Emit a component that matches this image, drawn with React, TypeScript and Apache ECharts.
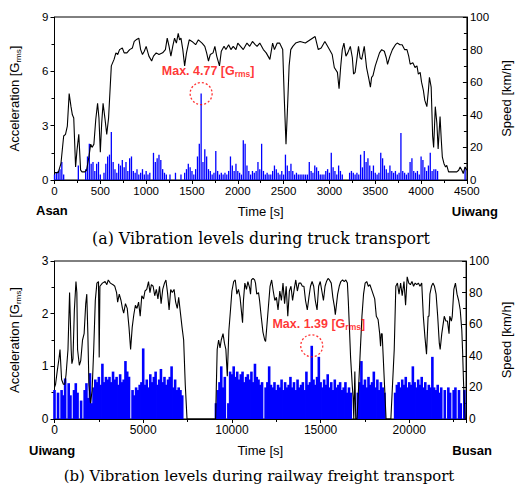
import React, { useEffect, useRef } from "react";
import * as echarts from "echarts";

// ---------- (a) truck transport ----------
const truckAccStep = 20; // s between acceleration samples
const truckAcc = [
  0.3, 0.4, 0.5, 0.6, 1.0, 0.3, 0, 0, 0, 0, 0, 0, 0, 0.8, 0, 0, 0, 0.6, 1.3, 2.0,
  0.9, 1.0, 0.5, 0.9, 1.0, 0.3, 0, 0.4, 0.9, 1.3, 1.4, 2.65, 1.0, 0.6, 0.4, 0.9, 0.8, 1.1, 0.7, 1.0,
  0.5, 1.2, 1.3, 0.5, 0.4, 0.6, 0.3, 0.4, 0.6, 0.3, 0.5, 0.3, 0.4, 0, 1.5, 1.0, 1.2, 1.4, 1.1, 0.6,
  0.4, 0.3, 0, 0.3, 0, 0, 0.4, 0, 0, 0.3, 0, 0.4, 0.6, 0.9, 0.7, 0.5, 0.3, 0.6, 1.3, 2.0,
  4.77, 1.0, 1.7, 1.3, 0.6, 0.5, 0.3, 0.4, 1.6, 0.5, 0.3, 0.4, 0.3, 0.4, 0.3, 0.5, 1.3, 0.8, 0.5, 0.9,
  0.5, 0.4, 0.3, 2.2, 2.0, 0.8, 0.5, 0.3, 0.5, 0.4, 0.5, 1.0, 0.6, 2.0, 0.5, 0.3, 0.4, 0.3, 0.3, 0.5,
  0.8, 0.6, 0.4, 0.3, 0.5, 0.3, 1.4, 0.8, 0.5, 0.9, 0.5, 0.3, 0.4, 0.3, 0.3, 0.3, 0.3, 0.3, 0.3, 1.0,
  0.5, 0.4, 0.8, 0.7, 0.5, 0.3, 0.3, 0.3, 0.5, 0.6, 0.4, 1.5, 0.7, 0.5, 0.3, 0.8, 0.5, 0.3, 0, 0,
  0, 0.4, 0.5, 0.4, 0.3, 0.4, 0.3, 1.4, 0.7, 1.6, 1.0, 1.2, 0.8, 0.5, 0.8, 0.4, 0.3, 0.4, 1.5, 1.2,
  0.8, 0.6, 0.4, 0.8, 0.5, 0.4, 0.5, 0.3, 0.4, 2.6, 0.5, 0.4, 0.3, 0.4, 1.0, 1.2, 0.5, 0.4, 0.5, 0.3,
  1.3, 1.1, 0.7, 0.5, 0.8, 1.5, 0.5, 0.6, 0.6, 0.5, 0, 0, 0, 0, 0, 0, 0, 0, 0, 0,
  0, 0, 0, 0, 0.7,
];
const truckSpeedTime = [
  0, 40, 70, 100, 120, 140, 160, 180, 195, 210, 230, 245, 265, 285, 300, 330, 350, 375, 395, 410,
  430, 450, 470, 485, 500, 515, 530, 550, 570, 590, 620, 650, 670, 690, 710, 740, 760, 790, 820, 850,
  870, 890, 920, 940, 960, 980, 1000, 1030, 1060, 1080, 1110, 1140, 1180, 1210, 1230, 1250, 1270, 1290, 1310, 1330,
  1350, 1365, 1380, 1400, 1420, 1440, 1470, 1500, 1540, 1570, 1610, 1640, 1660, 1680, 1700, 1730, 1750, 1770, 1800, 1820,
  1850, 1870, 1900, 1925, 1950, 1980, 2000, 2030, 2060, 2100, 2130, 2160, 2190, 2210, 2240, 2279, 2310, 2350, 2380, 2400,
  2430, 2456, 2490, 2508, 2526, 2543, 2560, 2578, 2600, 2631, 2680, 2737, 2790, 2844, 2878, 2910, 2950, 2980, 3000, 3030,
  3053, 3087, 3105, 3122, 3140, 3158, 3180, 3200, 3228, 3250, 3263, 3280, 3317, 3335, 3352, 3380, 3405, 3430, 3447, 3460,
  3475, 3500, 3546, 3570, 3599, 3620, 3634, 3660, 3687, 3720, 3740, 3770, 3793, 3820, 3846, 3865, 3881, 3910, 3934, 3955,
  3970, 3990, 4005, 4025, 4040, 4063, 4080, 4091, 4110, 4126, 4137, 4155, 4172, 4186, 4207, 4220, 4232, 4250, 4267, 4280,
  4300, 4350, 4390, 4410, 4426, 4445, 4460, 4480, 4500,
];
const truckSpeed = [
  4.5, 4.5, 10, 27, 28, 33, 53, 45, 40, 38, 8, 18, 28, 6, 5, 5, 6, 14, 22, 20,
  22, 37, 47, 38, 17, 35, 47, 38, 28, 38, 70, 74, 78, 77, 80, 81, 78, 78, 80, 81,
  85, 86, 87, 80, 77, 79, 82, 76, 73, 76, 78, 77, 78, 80, 87, 82, 76, 82, 87, 84,
  90, 86, 87, 80, 70, 78, 86, 85, 83, 86, 84, 82, 78, 73, 77, 78, 82, 76, 70, 79,
  82, 80, 83, 80, 82, 80, 84, 82, 80, 84, 82, 85, 83, 82, 84, 80, 78, 74, 84, 80,
  84, 84, 80, 49, 22, 45, 70, 80, 82, 84, 85, 84, 86, 88, 80, 81, 85, 82, 80, 77,
  69, 66, 56, 69, 80, 84, 76, 78, 82, 75, 65, 66, 82, 75, 74, 82, 69, 62, 57, 63,
  64, 70, 78, 80, 79, 75, 71, 76, 80, 83, 84, 83, 83, 80, 80, 76, 71, 72, 69, 70,
  65, 66, 60, 55, 49, 45, 55, 63, 57, 27, 20, 45, 35, 19, 39, 25, 14, 10, 8, 9,
  5, 5, 5, 6, 8, 6, 4, 8, 6,
];
const truckPeak = [1600, 4.77];

// ---------- (b) railway freight transport ----------
const railAccStep = 100; // s between acceleration samples
const railAcc = [
  0.55, 0, 0.5, 0, 0.55, 0.45, 0.77, 0, 0.68, 0.45, 0, 0.55, 0.68, 0.5, 0, 0.35, 0, 0.55, 0.68, 0.4,
  0.87, 0.3, 0.6, 0.75, 0.7, 0.8, 0.65, 1.05, 0.7, 0.8, 0.75, 0.8, 0.7, 0.9, 0.75, 0.8, 0.65, 0.85, 0.7, 0.75,
  1.1, 0.9, 0.8, 0, 0.55, 0.45, 0.6, 0.55, 0.65, 0.7, 1.34, 0.65, 0.75, 0.6, 0.85, 0.7, 0.8, 0.9, 0.65, 0.75,
  0.95, 0.7, 0.8, 0.65, 0.75, 0.8, 1.0, 0.6, 0.75, 0.55, 0.6, 0.55, 0.45, 0, 0, 0, 0, 0, 0, 0,
  0, 0, 0, 0, 0, 0, 0, 0, 0, 0, 0, 0.3, 0.55, 0.7, 1.0, 0.6, 0.8, 0, 0.3, 0.9,
  0.85, 1.0, 0.8, 0.9, 0.75, 0.85, 0.9, 0.7, 0.8, 0.85, 0.75, 0.9, 0.7, 1.05, 0.8, 0.75, 0.65, 0.7, 0, 0.6,
  0.7, 1.0, 0.65, 0.6, 0.7, 0.55, 0.65, 0.6, 0.75, 0.55, 0.7, 0.6, 0.65, 0.8, 0.6, 0.7, 0.55, 0.75, 0.6, 0.65,
  0.7, 0.55, 0.9, 0.65, 0.7, 1.39, 0.75, 0.65, 0.8, 1.18, 0.7, 0.6, 0.75, 0.65, 0.85, 0.6, 0.7, 0.55, 0.75, 0.6,
  0.65, 0.7, 0.55, 0.6, 0.7, 0.5, 0.6, 0.5, 0, 0, 0, 0.5, 0.7, 1.1, 0.65, 0.75, 0.6, 0.8, 0.65, 0.7,
  0.9, 0.6, 0.75, 0.55, 0.7, 0.6, 0.5, 0, 0, 0, 0, 0, 0.5, 0.65, 0.7, 0.6, 0.75, 0.65, 0.8, 0.6,
  0.7, 0.65, 1.0, 0.7, 0.6, 0.75, 0.65, 0.8, 0.6, 0.7, 0.55, 0.65, 0.6, 1.18, 0.6, 0.55, 0.65, 0.5, 0.6, 0,
  0.55, 0, 0.6, 0.5, 0, 0.55, 0.6, 0, 0.55, 0.3, 0, 0.55, 0,
];
const railSpeedTime = [
  0, 60, 150, 250, 310, 400, 500, 580, 650, 760, 850, 940, 980, 1040, 1120, 1210, 1260, 1300, 1400, 1480,
  1580, 1670, 1760, 1820, 1880, 1940, 2030, 2120, 2210, 2300, 2390, 2480, 2520, 2560, 2700, 2850, 2950, 3030, 3150, 3300,
  3400, 3500, 3560, 3650, 3750, 3830, 3900, 4000, 4100, 4200, 4290, 4380, 4470, 4560, 4650, 4740, 4830, 4920, 5020, 5100,
  5200, 5300, 5380, 5460, 5560, 5650, 5740, 5830, 5920, 6010, 6100, 6200, 6280, 6370, 6460, 6550, 6640, 6740, 6830, 6920,
  7000, 7100, 7190, 7280, 7370, 7470, 9080, 9170, 9250, 9330, 9400, 9500, 9580, 9660, 9740, 9830, 9920, 10000, 10100, 10190,
  10280, 10370, 10460, 10600, 10650, 10730, 10820, 10900, 11000, 11050, 11100, 11190, 11280, 11330, 11400, 11500, 11560, 11650, 11750, 11850,
  11900, 12000, 12150, 12240, 12330, 12420, 12510, 12600, 12700, 12790, 12880, 12970, 13060, 13150, 13240, 13330, 13420, 13510, 13600, 13690,
  13780, 13880, 13970, 14060, 14150, 14250, 14340, 14430, 14520, 14610, 14700, 14800, 14890, 14980, 15070, 15160, 15250, 15330, 15420, 15500,
  15600, 15690, 15780, 15830, 15900, 15960, 16050, 16140, 16240, 16330, 16420, 16510, 16560, 16630, 16690, 16780, 16830, 16870, 16930, 16980,
  17050, 17150, 17240, 17330, 17420, 17510, 17600, 17690, 17780, 17870, 17960, 18050, 18140, 18240, 18330, 18380, 18420, 18470, 18510, 18600,
  18690, 18960, 19150, 19240, 19330, 19420, 19510, 19600, 19700, 19790, 19880, 19970, 20060, 20150, 20240, 20330, 20420, 20510, 20600, 20700,
  20790, 20880, 20970, 21060, 21110, 21160, 21250, 21330, 21420, 21510, 21600, 21690, 21740, 21830, 21970, 22060, 22150, 22240, 22280, 22370,
  22420, 22510, 22600, 22690, 22780, 22870, 22960, 23000, 23060, 23150,
];
const railSpeed = [
  20, 22, 30, 38, 44, 25, 22, 22, 28, 44, 80, 44, 35, 38, 69, 87, 80, 44, 34, 37,
  50, 54, 73, 79, 54, 22, 10, 18, 44, 75, 86, 87, 39, 84, 86, 87, 85, 88, 86, 85,
  84, 80, 74, 79, 75, 70, 67, 73, 70, 58, 44, 58, 66, 72, 70, 74, 65, 78, 76, 81,
  82, 87, 80, 85, 84, 78, 82, 76, 84, 73, 82, 86, 88, 80, 69, 82, 80, 82, 74, 70,
  77, 67, 58, 50, 22, 0, 0, 44, 50, 45, 50, 54, 48, 44, 27, 56, 69, 81, 87, 88,
  79, 82, 77, 61, 75, 86, 82, 87, 83, 79, 88, 89, 88, 86, 79, 80, 75, 65, 55, 50,
  49, 63, 84, 88, 81, 75, 77, 69, 81, 75, 86, 73, 84, 65, 81, 84, 75, 82, 88, 81,
  86, 86, 84, 84, 75, 69, 77, 84, 87, 84, 75, 69, 84, 87, 81, 75, 84, 87, 89, 88,
  86, 77, 71, 66, 73, 79, 84, 87, 88, 87, 88, 86, 75, 56, 39, 22, 14, 0, 30, 0,
  0, 22, 44, 65, 79, 86, 87, 84, 85, 82, 79, 76, 65, 63, 54, 46, 54, 54, 44, 22,
  0, 0, 44, 84, 86, 79, 86, 78, 87, 72, 90, 86, 85, 87, 84, 86, 85, 86, 84, 86,
  65, 52, 41, 65, 65, 79, 84, 86, 84, 79, 65, 48, 44, 54, 65, 62, 62, 54, 65, 62,
  65, 82, 86, 79, 75, 69, 56, 44, 22, 0,
];
const railPeak = [14500, 1.39];

const SANS = '"Liberation Sans", Arial, sans-serif';
const SERIF = '"DejaVu Serif", serif';

const redRich = {
  a: { fontSize: 12.5, fontWeight: "bold", color: "#ff0000", fontFamily: SANS, lineHeight: 15 },
  s: { fontSize: 8.5, fontWeight: "bold", color: "#ff0000", fontFamily: SANS, lineHeight: 15, verticalAlign: "bottom", padding: [6, 0, 0, 0] },
};
const nameRich = {
  a: { fontSize: 13, color: "#000", fontFamily: SANS, lineHeight: 16 },
  s: { fontSize: 8, color: "#000", fontFamily: SANS, lineHeight: 16, verticalAlign: "bottom", padding: [6, 0, 0, 0] },
};

const plainNum = (v: number) => String(v);

function xAxisCfg(gridIndex: number, max: number, interval: number, fs: number) {
  return {
    type: "value",
    gridIndex,
    min: 0,
    max,
    interval,
    name: "Time [s]",
    nameLocation: "middle",
    nameGap: 25,
    nameTextStyle: { fontSize: 13, color: "#000", fontFamily: SANS },
    axisLine: { show: true, onZero: false, lineStyle: { color: "#000", width: 1 } },
    axisTick: { show: true, length: 4, lineStyle: { color: "#000" } },
    minorTick: { show: true, splitNumber: 2, length: 3, lineStyle: { color: "#000" } },
    splitLine: { show: false },
    axisLabel: { fontSize: fs, color: "#000", fontFamily: SANS, margin: 5, formatter: plainNum, showMaxLabel: max % interval === 0 },
  };
}

function leftAxisCfg(gridIndex: number, max: number, interval: number, fs: number) {
  return {
    type: "value",
    gridIndex,
    position: "left",
    min: 0,
    max,
    interval,
    name: "{a|Acceleration [G}{s|rms}{a|]}",
    nameLocation: "middle",
    nameRotate: 90,
    nameGap: 32,
    nameTextStyle: { rich: nameRich },
    axisLine: { show: true, lineStyle: { color: "#000", width: 1 } },
    axisTick: { show: true, length: 4, lineStyle: { color: "#000" } },
    minorTick: { show: true, splitNumber: 2, length: 3, lineStyle: { color: "#000" } },
    splitLine: { show: false },
    axisLabel: { fontSize: fs, color: "#000", fontFamily: SANS, margin: 6, formatter: plainNum },
  };
}

function rightAxisCfg(gridIndex: number, fs: number) {
  return {
    type: "value",
    gridIndex,
    position: "right",
    min: 0,
    max: 100,
    interval: 20,
    name: "Speed [km/h]",
    nameLocation: "middle",
    nameRotate: 90,
    nameGap: 32,
    nameTextStyle: { fontSize: 13, color: "#000", fontFamily: SANS },
    axisLine: { show: true, lineStyle: { color: "#000", width: 1 } },
    axisTick: { show: true, inside: true, length: 4, lineStyle: { color: "#000" } },
    minorTick: { show: true, splitNumber: 2, length: 3, lineStyle: { color: "#000" } },
    splitLine: { show: false },
    axisLabel: { fontSize: fs, color: "#000", fontFamily: SANS, margin: 3, formatter: plainNum },
  };
}

function peakSeries(xi: number, yi: number, peak: number[]) {
  return {
    type: "scatter",
    xAxisIndex: xi,
    yAxisIndex: yi,
    data: [peak],
    symbol: "circle",
    symbolSize: 22,
    z: 5,
    itemStyle: { color: "rgba(0,0,0,0)", borderColor: "#ff0000", borderWidth: 1.3, borderType: [2, 2] },
    label: {
      show: true,
      position: "top",
      distance: 3,
      offset: [7, 0],
      formatter: `{a|Max. ${peak[1].toFixed(2)} [G}{s|rms}{a|]}`,
      rich: redRich,
    },
  };
}

function textEl(text: string, x: number, y: number, font: string, align: string) {
  return {
    type: "text",
    x,
    y,
    style: { text, font, fill: "#000", textAlign: align, textVerticalAlign: "middle", align, verticalAlign: "middle" },
  };
}

export default function App() {
  const ref = useRef<HTMLDivElement>(null);
  useEffect(() => {
    if (!ref.current) return;
    const chart = echarts.init(ref.current, null, { renderer: "svg" });
    const truckAccData = truckAcc.map((v, i) => [i * truckAccStep, v]);
    const truckSpeedData = truckSpeedTime.map((t, i) => [t, truckSpeed[i]]);
    const railAccData = railAcc.map((v, i) => [i * railAccStep, v]);
    const railSpeedData = railSpeedTime.map((t, i) => [t, railSpeed[i]]);

    chart.setOption({
      animation: false,
      backgroundColor: "#fff",
      grid: [
        { left: 52, top: 17, width: 424, height: 163, show: true, borderColor: "#000", borderWidth: 1, backgroundColor: "transparent" },
        { left: 51, top: 261, width: 424, height: 158, show: true, borderColor: "#000", borderWidth: 1, backgroundColor: "transparent" },
      ],
      xAxis: [xAxisCfg(0, 4500, 500, 11.5), xAxisCfg(1, 23200, 5000, 12)],
      yAxis: [leftAxisCfg(0, 9, 3, 11.5), rightAxisCfg(0, 11.5), leftAxisCfg(1, 3, 1, 12), rightAxisCfg(1, 12)],
      series: [
        { type: "bar", xAxisIndex: 0, yAxisIndex: 0, data: truckAccData, barWidth: 1.3, itemStyle: { color: "#0000ff" }, z: 2 },
        { type: "line", xAxisIndex: 0, yAxisIndex: 1, data: truckSpeedData, symbol: "none", lineStyle: { color: "#000", width: 1.1 }, z: 3 },
        peakSeries(0, 0, truckPeak),
        { type: "bar", xAxisIndex: 1, yAxisIndex: 2, data: railAccData, barWidth: 2.6, itemStyle: { color: "#0000ff" }, z: 2 },
        { type: "line", xAxisIndex: 1, yAxisIndex: 3, data: railSpeedData, symbol: "none", lineStyle: { color: "#000", width: 1.1 }, z: 3 },
        peakSeries(1, 2, railPeak),
      ],
      graphic: [
        textEl("Asan", 36, 210, `bold 13px ${SANS}`, "left"),
        textEl("Uiwang", 498, 211, `bold 13px ${SANS}`, "right"),
        textEl("(a) Vibration levels during truck transport", 261, 238, `15.8px ${SERIF}`, "center"),
        textEl("Uiwang", 29, 450, `bold 13px ${SANS}`, "left"),
        textEl("Busan", 492, 450, `bold 13px ${SANS}`, "right"),
        textEl("(b) Vibration levels during railway freight transport", 259, 476, `14.9px ${SERIF}`, "center"),
      ],
    });
    return () => chart.dispose();
  }, []);
  return (
    <div
      ref={ref}
      style={{ position: "fixed", left: 0, top: 0, width: 521, height: 486, background: "#fff" }}
    />
  );
}
